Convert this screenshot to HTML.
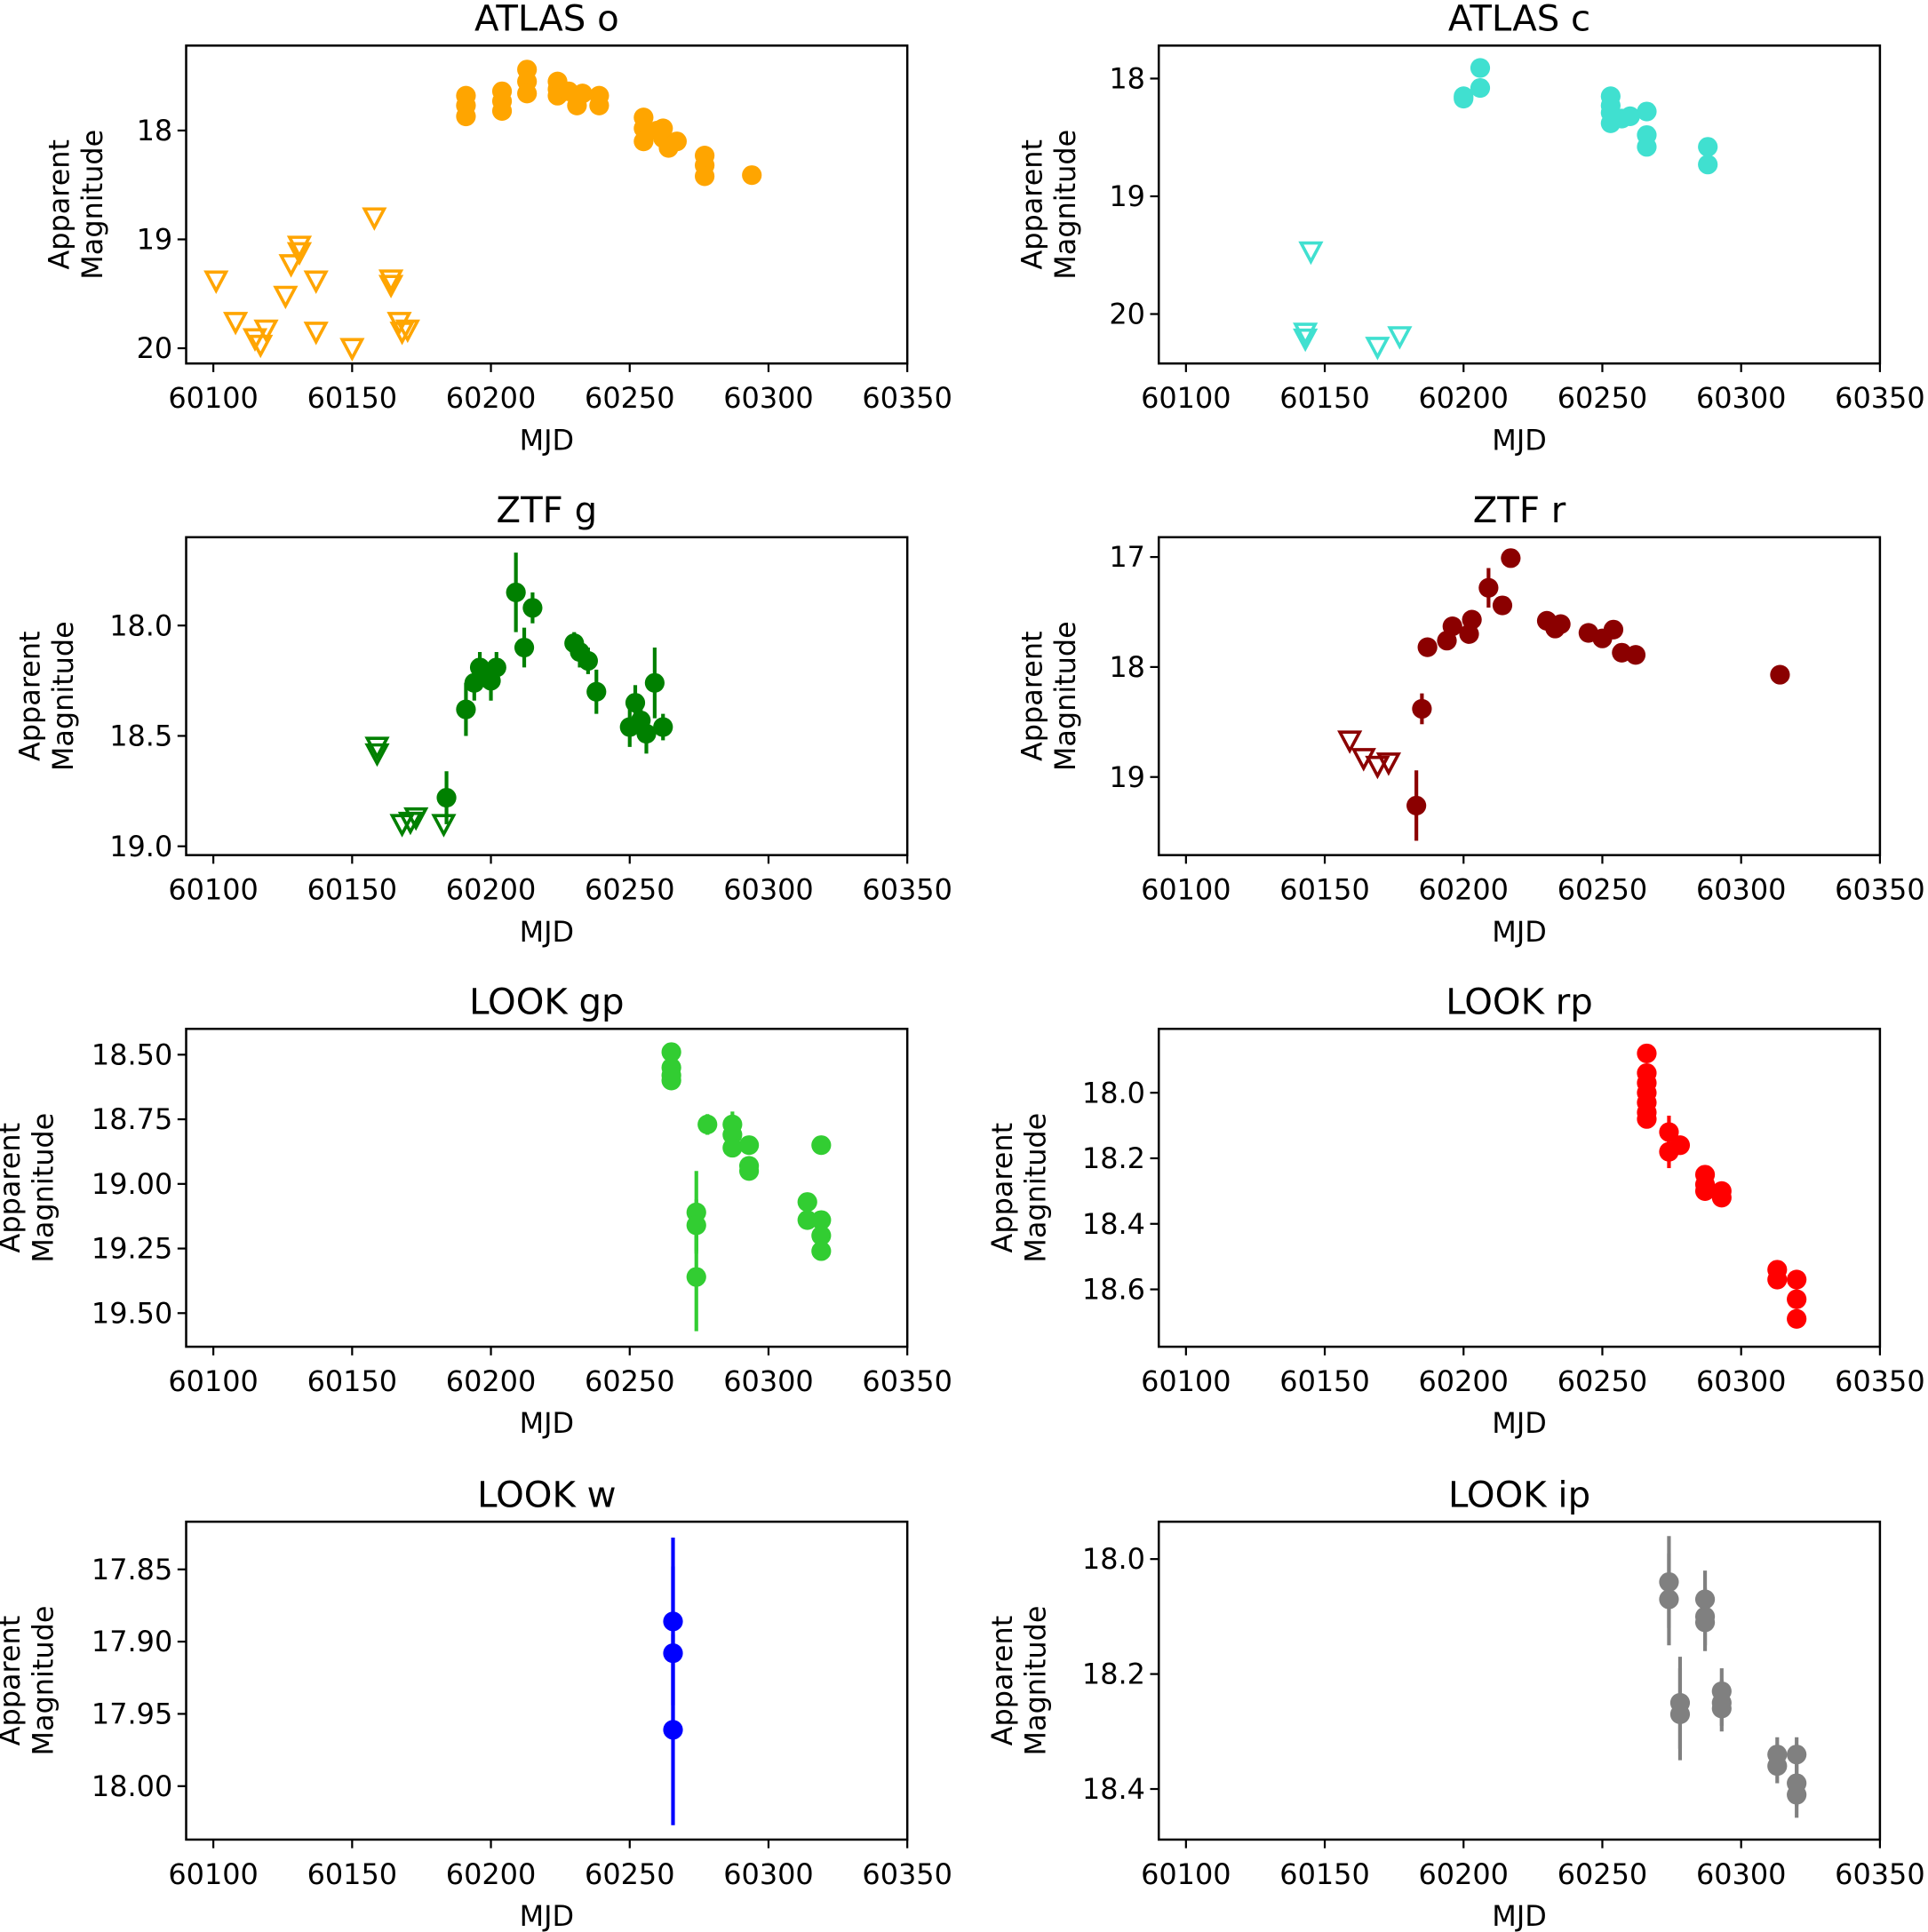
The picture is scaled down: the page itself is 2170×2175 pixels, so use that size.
<!DOCTYPE html>
<html><head><meta charset="utf-8"><style>
html,body{margin:0;padding:0;background:#fff}
svg{display:block}
text{font-family:"DejaVu Sans","Liberation Sans",sans-serif;fill:#000}
</style></head><body>
<svg id="fig" width="2170" height="2175" viewBox="0 0 1564 1568" preserveAspectRatio="none" xmlns="http://www.w3.org/2000/svg"></svg>
<script>
// ---- data ----
const xTicks = [60100, 60150, 60200, 60250, 60300, 60350];
const titles = ["ATLAS o","ATLAS c","ZTF g","ZTF r","LOOK gp","LOOK rp","LOOK w","LOOK ip"];
const colors = ["#ffa500","#40e0d0","#008000","#8b0000","#32cd32","#ff0000","#0000ff","#808080"];

const atlasOMjd = [60191,60191,60191,60204,60204,60204,60213,60213,60213,60224,60224,60224,60228,60231,60233,60239,60239,60255,60255,60255,60260,60262,60262,60264,60267,60277,60277,60277,60294];
const atlasOMag = [17.68,17.77,17.87,17.64,17.73,17.82,17.44,17.55,17.66,17.55,17.62,17.68,17.64,17.77,17.66,17.68,17.77,17.88,17.98,18.10,18.0,17.98,18.07,18.16,18.10,18.23,18.32,18.42,18.41];
const atlasOLimMjd = [60101,60108,60115,60117,60119,60126,60128,60131,60131,60137,60137,60150,60158,60164,60164,60167,60168,60170];
const atlasOLimMag = [19.38,19.76,19.91,19.97,19.83,19.52,19.23,19.06,19.12,19.38,19.85,20.0,18.80,19.37,19.42,19.76,19.85,19.83];

const atlasCMjd = [60200,60200,60206,60206,60253,60253,60253,60253,60257,60260,60266,60266,60266,60288,60288];
const atlasCMag = [18.15,18.17,17.91,18.08,18.15,18.23,18.29,18.38,18.34,18.32,18.28,18.48,18.58,18.58,18.73];
const atlasCLimMjd = [60145,60143,60143,60169,60177];
const atlasCLimMag = [19.47,20.16,20.21,20.28,20.19];

const ztfGMjd = [60184,60191,60194,60196,60198,60200,60202,60209,60212,60215,60230,60232,60235,60238,60250,60252,60254,60256,60259,60262];
const ztfGMag = [18.78,18.38,18.26,18.19,18.22,18.25,18.19,17.85,18.10,17.92,18.08,18.12,18.16,18.30,18.46,18.35,18.43,18.49,18.26,18.46];
const ztfGErr = [0.12,0.12,0.08,0.07,0.06,0.09,0.07,0.18,0.09,0.07,0.05,0.07,0.06,0.10,0.09,0.08,0.07,0.09,0.16,0.06];
const ztfGLimMjd = [60159,60159,60168,60171,60173,60183];
const ztfGLimMag = [18.55,18.58,18.90,18.89,18.87,18.90];

const ztfRMjd = [60183,60185,60187,60194,60196,60202,60203,60209,60214,60217,60230,60233,60235,60245,60250,60254,60257,60262,60314];
const ztfRMag = [19.26,18.38,17.82,17.76,17.63,17.70,17.57,17.28,17.44,17.01,17.58,17.65,17.61,17.69,17.74,17.66,17.87,17.89,18.07];
const ztfRErr = [0.32,0.14,0.07,0.05,0.04,0.04,0.04,0.18,0.04,0.03,0.04,0.04,0.03,0.03,0.04,0.03,0.04,0.03,0.03];
const ztfRLimMjd = [60159,60164,60169,60173];
const ztfRLimMag = [18.67,18.83,18.90,18.87];

const gpMjd = [60265,60265,60265,60265,60274,60274,60274,60278,60287,60287,60287,60293,60293,60293,60314,60314,60319,60319,60319,60319];
const gpMag = [18.49,18.55,18.58,18.60,19.11,19.16,19.36,18.77,18.77,18.81,18.86,18.85,18.93,18.95,19.07,19.14,18.85,19.14,19.20,19.26];
const gpErr = [0.02,0.02,0.02,0.02,0.16,0.10,0.21,0.04,0.05,0.03,0.02,0.02,0.02,0.02,0.02,0.02,0.02,0.02,0.02,0.02];

const rpMjd = [60266,60266,60266,60266,60266,60266,60266,60274,60274,60278,60287,60287,60287,60293,60293,60313,60313,60320,60320,60320];
const rpMag = [17.88,17.94,17.97,18.0,18.03,18.06,18.08,18.12,18.18,18.16,18.25,18.28,18.30,18.30,18.32,18.54,18.57,18.57,18.63,18.69];
const rpErr = [0.01,0.01,0.01,0.01,0.01,0.01,0.01,0.05,0.05,0.02,0.02,0.02,0.02,0.01,0.01,0.02,0.02,0.02,0.02,0.02];

const wMjd = [60265.6,60265.6,60265.6];
const wMag = [17.886,17.908,17.961];
const wErr = [0.058,0.06,0.066];

const ipMjd = [60274,60274,60278,60278,60287,60287,60287,60293,60293,60293,60313,60313,60320,60320,60320];
const ipMag = [18.04,18.07,18.25,18.27,18.07,18.10,18.11,18.23,18.25,18.26,18.34,18.36,18.34,18.39,18.41];
const ipErr = [0.08,0.08,0.08,0.08,0.05,0.05,0.05,0.04,0.04,0.04,0.03,0.03,0.03,0.04,0.04];

const yTicksList = [[18,19,20],[18,19,20],[18.0,18.5,19.0],[17,18,19],[18.50,18.75,19.00,19.25,19.50],[18.0,18.2,18.4,18.6],[17.85,17.90,17.95,18.00],[18.0,18.2,18.4]];
const yDecimals = [0,0,1,0,2,1,2,1];
const yLims = [[17.22,20.14],[17.72,20.42],[17.60,19.04],[16.82,19.71],[18.40,19.63],[17.805,18.775],[17.817,18.037],[17.935,18.488]];

const panels = [
 {mjd:atlasOMjd,mag:atlasOMag,err:null,lm:atlasOLimMjd,lg:atlasOLimMag},
 {mjd:atlasCMjd,mag:atlasCMag,err:null,lm:atlasCLimMjd,lg:atlasCLimMag},
 {mjd:ztfGMjd,mag:ztfGMag,err:ztfGErr,lm:ztfGLimMjd,lg:ztfGLimMag},
 {mjd:ztfRMjd,mag:ztfRMag,err:ztfRErr,lm:ztfRLimMjd,lg:ztfRLimMag},
 {mjd:gpMjd,mag:gpMag,err:gpErr,lm:[],lg:[]},
 {mjd:rpMjd,mag:rpMag,err:rpErr,lm:[],lg:[]},
 {mjd:wMjd,mag:wMag,err:wErr,lm:[],lg:[]},
 {mjd:ipMjd,mag:ipMag,err:ipErr,lm:[],lg:[]}
];
const ylabOffsets = [95,95,119,95,135,119,135,119];

// ---- drawing ----
const NS="http://www.w3.org/2000/svg";
const svg=document.getElementById('fig');
function mk(tag,attrs,parent){const e=document.createElementNS(NS,tag);for(const k in attrs)e.setAttribute(k,attrs[k]);(parent||svg).appendChild(e);return e;}
const colX=[151,940], W=585, rowY=[37,436,835,1235], H=258;
const xMin=60090.2, xMax=60350;

panels.forEach((p,i)=>{
  const L=colX[i%2], T=rowY[Math.floor(i/2)];
  const [y0,y1]=yLims[i];
  const sx=v=>L+(v-xMin)/(xMax-xMin)*W;
  const sy=v=>T+(v-y0)/(y1-y0)*H;
  const g=mk('g',{});
  
  
  const c=colors[i];
  if(p.err){p.mag.forEach((m,k)=>{
    const e=mk('line',{x1:sx(p.mjd[k]),x2:sx(p.mjd[k]),y1:sy(m-p.err[k]),y2:sy(m+p.err[k]),stroke:c,'stroke-width':3},g);
    
    
  });}
  p.mag.forEach((m,k)=>{
    const e=mk('circle',{cx:sx(p.mjd[k]),cy:sy(m),r:8,fill:c},g);
    
    
  });
  p.lg.forEach((m,k)=>{
    const x=sx(p.lm[k]),y=sy(m);
    const e=mk('polygon',{points:`${x-8},${y-7} ${x+8},${y-7} ${x},${y+8}`,fill:'none',stroke:c,'stroke-width':2.6},g);
    
    
  });
  const fr=mk('rect',{x:L,y:T,width:W,height:H,fill:'none',stroke:'#000','stroke-width':1.8},g);
  
  
  xTicks.forEach(t=>{
    const x=sx(t);
    mk('line',{x1:x,x2:x,y1:T+H,y2:T+H+7,stroke:'#000','stroke-width':1.6},g);
    const tx=mk('text',{x:x,y:T+H+36,'text-anchor':'middle','font-size':23},g);
    tx.textContent=t;
    
    
  });
  yTicksList[i].forEach(t=>{
    const y=sy(t);
    mk('line',{x1:L-7,x2:L,y1:y,y2:y,stroke:'#000','stroke-width':1.6},g);
    const tx=mk('text',{x:L-11,y:y+8,'text-anchor':'end','font-size':23},g);
    tx.textContent=t.toFixed(yDecimals[i]);
    
    
  });
  const ti=mk('text',{x:L+W/2,y:T-12,'text-anchor':'middle','font-size':29},g);
  ti.textContent=titles[i];
  
  
  const xl=mk('text',{x:L+W/2,y:T+H+70,'text-anchor':'middle','font-size':23},g);
  xl.textContent='MJD';
  
  
  const cx=L-ylabOffsets[i], cy=T+H/2;
  const yl=mk('text',{transform:`translate(${cx},${cy}) rotate(-90)`,'text-anchor':'middle','font-size':23},g);
  
  
  const t1=mk('tspan',{x:0,y:0},yl); t1.textContent='Apparent';
  const t2=mk('tspan',{x:0,y:27},yl); t2.textContent='Magnitude';
});
</script>
</body></html>
